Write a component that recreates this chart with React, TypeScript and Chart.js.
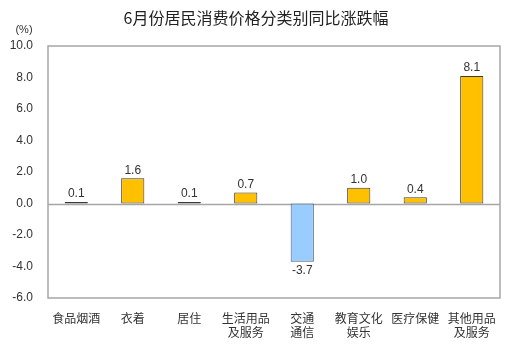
import React, { useEffect, useRef } from "react";
import { Chart, registerables } from "chart.js";

Chart.register(...registerables);

const TITLE = "6月份居民消费价格分类别同比涨跌幅";
const UNIT = "(%)";
const categories: (string | string[])[] = [
  "食品烟酒",
  "衣着",
  "居住",
  ["生活用品", "及服务"],
  ["交通", "通信"],
  ["教育文化", "娱乐"],
  "医疗保健",
  ["其他用品", "及服务"],
];
const values = [0.1, 1.6, 0.1, 0.7, -3.7, 1.0, 0.4, 8.1];
const Y_MIN = -6;
const Y_MAX = 10;
const Y_STEP = 2;

const POS_FILL = "#FFC000";
const NEG_FILL = "#99CCFF";

export default function App() {
  const ref = useRef<HTMLCanvasElement | null>(null);

  useEffect(() => {
    document.body.style.margin = "0";
    const canvas = ref.current;
    if (!canvas) return;

    const decor = {
      id: "decor",
      beforeDatasetsDraw(chart: any) {
        const { ctx, chartArea } = chart;
        const y = chart.scales.y;
        ctx.save();
        const z = Math.round(y.getPixelForValue(0)) + 0.5;
        ctx.strokeStyle = "#A6A6A6";
        ctx.lineWidth = 1.5;
        ctx.beginPath();
        ctx.moveTo(chartArea.left, z);
        ctx.lineTo(chartArea.right, z);
        ctx.stroke();
        ctx.restore();
      },
      afterDatasetsDraw(chart: any) {
        const { ctx, chartArea } = chart;
        ctx.save();
        ctx.strokeStyle = "#A6A6A6";
        ctx.lineWidth = 1.5;
        ctx.strokeRect(
          chartArea.left,
          chartArea.top,
          chartArea.right - chartArea.left,
          chartArea.bottom - chartArea.top
        );
        const meta = chart.getDatasetMeta(0);
        ctx.fillStyle = "#333333";
        ctx.font = "12px 'Liberation Sans', Arial, sans-serif";
        ctx.textAlign = "center";
        meta.data.forEach((el: any, i: number) => {
          const v = values[i];
          const txt = v.toFixed(1);
          if (v >= 0) {
            ctx.textBaseline = "bottom";
            ctx.fillText(txt, el.x, el.y - 2);
          } else {
            ctx.textBaseline = "top";
            ctx.fillText(txt, el.x, el.y + 3);
          }
        });
        ctx.fillStyle = "#222222";
        ctx.font = "16px 'Noto Sans CJK SC', sans-serif";
        ctx.textBaseline = "middle";
        ctx.textAlign = "center";
        ctx.fillText(TITLE, 256, 18);
        ctx.fillStyle = "#333333";
        ctx.font = "11px 'Liberation Sans', Arial, sans-serif";
        ctx.fillText(UNIT, 24, 30);
        ctx.restore();
      },
    };

    const chart = new Chart(canvas, {
      type: "bar",
      data: {
        labels: categories,
        datasets: [
          {
            data: values,
            backgroundColor: values.map((v) => (v >= 0 ? POS_FILL : NEG_FILL)),
            borderColor: values.map((v) => (v >= 0 ? "#3A3A3A" : "#4A5A70")),
            borderWidth: 1,
            borderSkipped: false,
            categoryPercentage: 1,
            barPercentage: 0.41,
          },
        ],
      },
      options: {
        responsive: false,
        maintainAspectRatio: false,
        animation: false,
        layout: { padding: { top: 46, right: 11, left: 0, bottom: 0 } },
        plugins: {
          legend: { display: false },
          title: { display: false },
          tooltip: { enabled: false },
        },
        scales: {
          x: {
            grid: { display: false, drawTicks: false },
            border: { display: false },
            ticks: {
              color: "#333333",
              padding: 13,
              maxRotation: 0,
              autoSkip: false,
              font: { family: "'Noto Sans CJK SC', sans-serif", size: 12, lineHeight: 1.2 },
            },
            afterFit(scale: any) {
              scale.height = 58;
            },
          },
          y: {
            min: Y_MIN,
            max: Y_MAX,
            grid: { display: false, drawTicks: false },
            border: { display: false },
            ticks: {
              stepSize: Y_STEP,
              color: "#333333",
              padding: 15,
              font: { family: "'Liberation Sans', Arial, sans-serif", size: 12 },
              callback: (v: any) => Number(v).toFixed(1),
            },
            afterFit(scale: any) {
              scale.width = 48;
            },
          },
        },
      },
      plugins: [decor],
    });

    return () => chart.destroy();
  }, []);

  return (
    <div style={{ width: 511, height: 356, background: "#fff" }}>
      <canvas ref={ref} width={511} height={356} style={{ display: "block" }} />
    </div>
  );
}
